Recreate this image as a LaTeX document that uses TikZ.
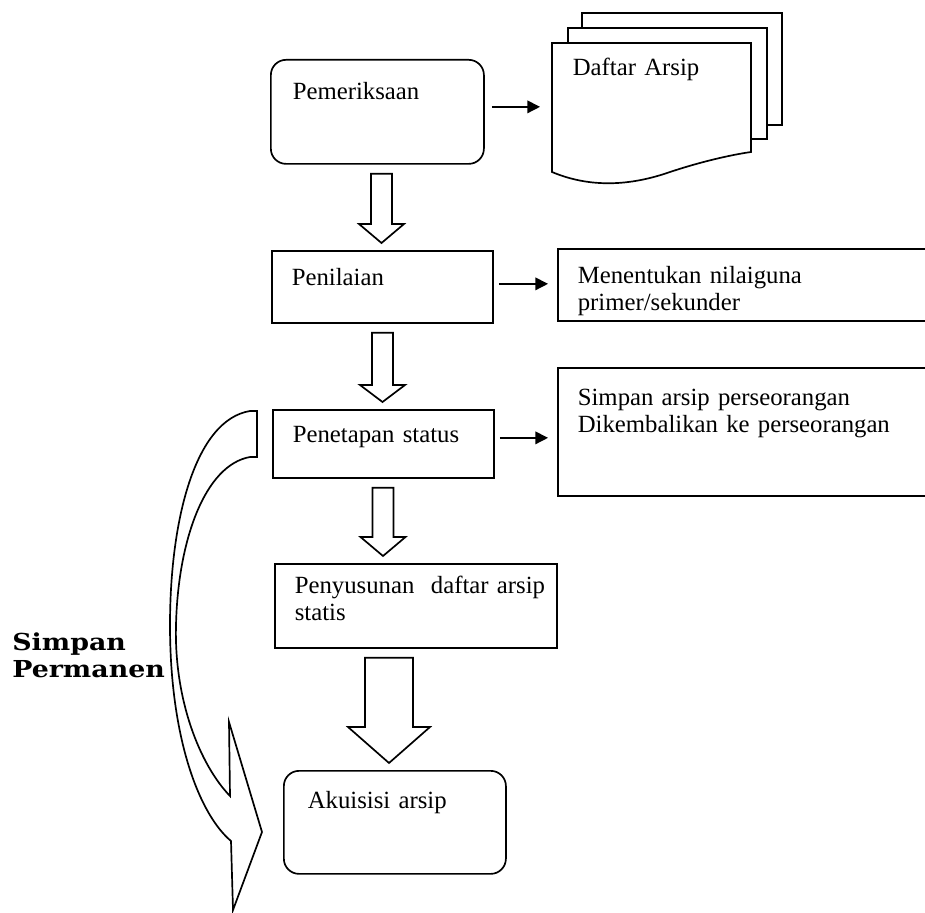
\documentclass[tikz,border=0pt]{standalone}
\usepackage{fontspec}
\setmainfont{Liberation Serif}
\newfontfamily\slabfont[FakeStretch=1.15]{DejaVu Serif}
\usetikzlibrary{positioning,arrows.meta,calc}
\pgfdeclarelayer{background}
\pgfsetlayers{background,main}
\newcommand{\boxfont}{\fontsize{17.6}{19.2}\selectfont}
% hollow block arrow: from, to, x, half shaft, half head, head length
\newcommand{\hollowarrow}[6]{%
  \coordinate (hx) at (#3,0);
  \coordinate (ht) at (hx |- #1.south);
  \coordinate (hb) at (hx |- #2.north);
  \draw[hollow] ($(ht)+(-#4,9)$) -- ($(ht)+(#4,9)$) -- ($(hb)+(#4,-7-#6)$)
    -- ($(hb)+(#5,-7-#6)$) -- ($(hb)+(0,-7)$) -- ($(hb)+(-#5,-7-#6)$)
    -- ($(hb)+(-#4,-7-#6)$) -- cycle;
}

\begin{document}
\begin{tikzpicture}[
    x=0.025cm, y=-0.025cm,
    box/.style={draw, line width=1.2pt, anchor=north west, align=left,
                inner ysep=0pt, inner xsep=0.5cm, text height=13pt, font=\boxfont},
    roundbox/.style={box, rounded corners=0.38cm},
    docnode/.style={box, draw=none},
    hollow/.style={draw, line width=1.2pt, fill=white, line join=miter},
    arrow/.style={-{Triangle[length=9pt,width=9pt]}, line width=1pt}
]
\useasboundingbox (0,0) rectangle (925,912);
\clip (0,0) rectangle (925,912);

\node[roundbox, inner xsep=0.55cm, minimum width=5.325cm, minimum height=2.6cm,
      text width=4.225cm, text depth=30pt] (pem) at (270,59) {Pemeriksaan};
\node[docnode, minimum width=4.975cm, minimum height=2.725cm,
      text width=3.975cm, text depth=45pt] (daftar) at (552,43) {Daftar Arsip};
\node[box, minimum width=5.525cm, minimum height=1.8cm,
      text width=4.525cm, text depth=14.4pt] (pen) at (271,250) {Penilaian};
\node[box, minimum width=9.575cm, minimum height=1.8cm,
      text width=8.575cm, text depth=14.4pt] (nilai) at (557,248)
      {Menentukan nilaiguna\\primer/sekunder};
\node[box, minimum width=5.525cm, minimum height=1.7cm,
      text width=4.525cm, text depth=14.4pt] (stat) at (272,409) {Penetapan status};
\node[box, minimum width=9.575cm, minimum height=3.2cm,
      text width=8.575cm, text depth=50pt] (simpan) at (557,367)
      {Simpan arsip perseorangan\\Dikembalikan ke perseorangan};
\node[box, minimum width=7.05cm, minimum height=2.1cm,
      text width=6.05cm, text depth=30.1pt] (susun) at (274,563)
      {\mbox{Penyusunan\ \ daftar arsip}\\statis};
\node[roundbox, inner xsep=0.6cm, minimum width=5.55cm, minimum height=2.575cm,
      text width=4.35cm, text depth=32.2pt] (akui) at (283,770) {Akuisisi arsip};

\node[anchor=north west, align=left, inner sep=0pt, text width=5cm, text height=12pt,
      font=\slabfont\bfseries\fontsize{16.6}{19.2}\selectfont] (perm) at (12,633)
      {Simpan\\Permanen};

% stacked documents
\begin{pgfonlayer}{background}
\begin{scope}[shift={(daftar.north west)}]
  \draw[hollow] (30,-30) rectangle (230,82);
  \draw[hollow] (16,-15) rectangle (215,96);
  \draw[hollow] (0,0) -- (199,0) -- (199,109)
    .. controls (178,112) and (148,119) .. (118,129)
    .. controls (78,143) and (38,145) .. (0,129) -- cycle;
\end{scope}
\end{pgfonlayer}

\draw[arrow] ($(pem.east)+(7,-5)$) -- ($(pem.east -| daftar.west)+(-12,-5)$);
\draw[arrow] ($(pen.east)+(5,-3)$) -- ($(pen.east -| nilai.west)+(-9,-3)$);
\draw[arrow] ($(stat.east)+(5,-6)$) -- ($(stat.east -| simpan.west)+(-9,-6)$);

\hollowarrow{pem}{pen}{381.5}{10.5}{22.5}{19}
\hollowarrow{pen}{stat}{382.5}{10.5}{22.5}{17}
\hollowarrow{stat}{susun}{383}{10.5}{22.5}{19}
\hollowarrow{susun}{akui}{389}{24}{41}{36}

% curved arrow to the acquisition box
\draw[hollow] (257,411) -- (250,411)
  .. controls (195,420) and (170,520) .. (170,625)
  .. controls (170,740) and (200,815) .. (231,841)
  -- (233,910) -- (262,832) -- (229,722) -- (230,796)
  .. controls (200,765) and (174,700) .. (176,625)
  .. controls (178,540) and (205,465) .. (250,457)
  -- (257,457) -- cycle;
\end{tikzpicture}
\end{document}
